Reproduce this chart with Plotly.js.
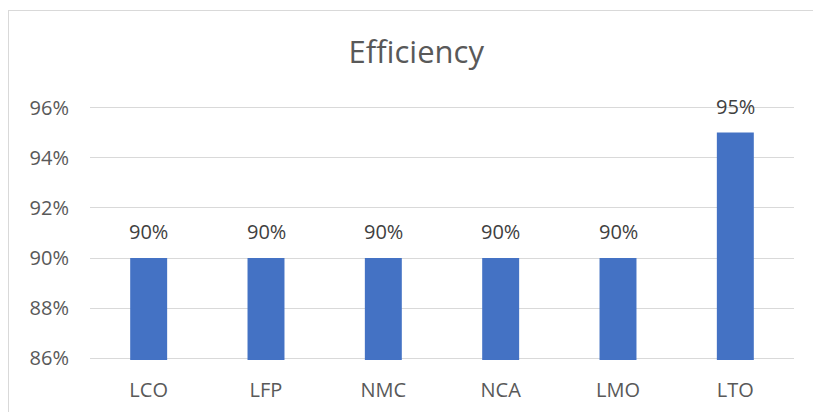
<!DOCTYPE html>
<html>
<head>
<meta charset="utf-8">
<script src="https://cdn.plot.ly/plotly-3.0.1.min.js"></script>
<style>
  html, body { margin: 0; padding: 0; background: #fff; }
  #wrap { position: relative; width: 813px; height: 412px; overflow: hidden; }
  #chart { width: 813px; height: 412px; }
  #frame { position: absolute; left: 8px; top: 10px; width: 900px; height: 500px;
           border-left: 1px solid #d9d9d9; border-top: 1px solid #d9d9d9; pointer-events: none; }
</style>
</head>
<body>
<div id="wrap">
  <div id="chart"></div>
  <div id="frame"></div>
</div>
<script>
const categories = ["LCO", "LFP", "NMC", "NCA", "LMO", "LTO"];
const efficiency = [90, 90, 90, 90, 90, 95];

const FONT = "Open Sans, Noto Sans, sans-serif";

const trace = {
  type: "bar",
  x: categories,
  y: efficiency,
  marker: { color: "#4472C4" },
  hoverinfo: "x+y"
};

const annotations = categories.map((c, i) => ({
  x: c, y: efficiency[i], xref: "x", yref: "y",
  text: efficiency[i] + "%",
  showarrow: false, yanchor: "bottom", yshift: 11,
  font: { family: FONT, size: 20, color: "#404040" }
}));

const layout = {
  width: 813, height: 412,
  margin: { l: 90, r: 19, t: 106, b: 52 },
  paper_bgcolor: "#ffffff",
  plot_bgcolor: "#ffffff",
  showlegend: false,
  bargap: 0.685,
  title: {
    text: "Efficiency",
    font: { family: FONT, size: 31, color: "#595959" },
    xref: "container", x: 0.512, xanchor: "center",
    yref: "container", y: 0.874, yanchor: "middle"
  },
  xaxis: {
    type: "category",
    showgrid: false, zeroline: false, showline: false,
    ticks: "",
    ticklabelstandoff: 16,
    tickfont: { family: FONT, size: 20, color: "#595959" }
  },
  yaxis: {
    range: [85.94, 96.06],
    tick0: 86, dtick: 2,
    ticksuffix: "%",
    showgrid: true, gridcolor: "#d9d9d9", gridwidth: 1,
    zeroline: false, showline: false,
    ticks: "",
    ticklabelstandoff: 20,
    tickfont: { family: FONT, size: 20, color: "#595959" }
  },
  annotations: annotations
};

Plotly.newPlot("chart", [trace], layout, { displayModeBar: false, staticPlot: true });
</script>
</body>
</html>
